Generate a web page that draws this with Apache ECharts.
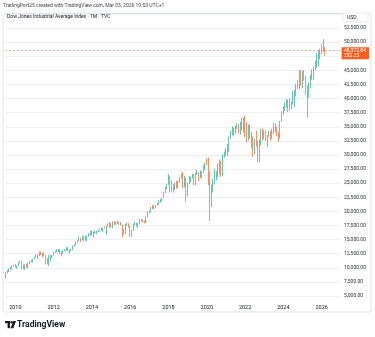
<!DOCTYPE html>
<html><head><meta charset="utf-8">
<script src="https://cdn.jsdelivr.net/npm/echarts@6/dist/echarts.min.js"></script>
<style>html,body{margin:0;padding:0;background:#fff}#c{width:375px;height:337px}</style>
</head><body><div id="c"></div>
<script>
// First candle: Jul 2009; axis continues (empty) to Dec 2026
const startYear = 2009, startMonth = 7, axisSlots = 210;
const yearLabels = ['2010','2012','2014','2016','2018','2020','2022','2024','2026'];
const yTicks = { min: 5000, max: 55000, step: 2500 };

const open = [
  8447, 9171, 9496, 9712, 9713, 10345,
  10428, 10067, 10325, 10857, 11009, 10137, 9774, 10466, 10015, 10788, 11118, 11006,
  11578, 11892, 12226, 12320, 12811, 12570, 12414, 12143, 11614, 10913, 11955, 12046,
  12218, 12633, 12952, 13212, 13214, 12393, 12880, 13009, 13091, 13437, 13096, 13026,
  13104, 13861, 14054, 14579, 14840, 15116, 14910, 15500, 14810, 15130, 15546, 16086,
  16577, 15699, 16322, 16458, 16581, 16717, 16827, 16563, 17098, 17043, 17391, 17828,
  17823, 17165, 18133, 17776, 17841, 18011, 17620, 17690, 16528, 16285, 17664, 17720,
  17425, 16466, 16517, 17685, 17774, 17787, 17930, 18432, 18401, 18308, 18142, 19124,
  19763, 19864, 20812, 20663, 20941, 21009, 21350, 21891, 21948, 22405, 23377, 24272,
  24719, 26149, 25029, 24103, 24163, 24416, 24271, 25415, 25965, 26458, 25116, 25538,
  23327, 24999, 25916, 25929, 26593, 24815, 26600, 26864, 26403, 26917, 27046, 28051,
  28538, 28256, 25409, 21917, 24346, 25383, 25813, 26428, 28430, 27782, 26502, 29638,
  30606, 29983, 30932, 32982, 33875, 34529, 34503, 34935, 35361, 33844, 35820, 34484,
  36338, 35132, 33893, 34678, 32977, 32990, 30775, 32845, 31510, 28726, 32733, 34590,
  33147, 34086, 32657, 33274, 34098, 32908, 34408, 35560, 34722, 33508, 33053, 35951,
  37690, 38150, 38996, 39807, 37816, 38686, 39119, 40843, 41563, 42330, 41763, 44911,
  42544, 44545, 43841, 42002, 40669, 42270, 44095, 44131, 45545, 46398, 47563, 47716,
  48063, 48892, 49100
];
const high = [
  9288, 9630, 9918, 10119, 10450, 10580,
  10729, 10418, 10958, 11258, 11205, 10595, 10584, 10720, 10948, 11247, 11451, 11625,
  11980, 12391, 12419, 12876, 12929, 12580, 12753, 12285, 11717, 12284, 12240, 12328,
  12841, 13055, 13290, 13338, 13280, 12898, 13099, 13330, 13653, 13662, 13290, 13310,
  13969, 14150, 14585, 14888, 15542, 15340, 15634, 15658, 15710, 15722, 16174, 16588,
  16589, 16398, 16588, 16631, 16735, 16978, 17151, 17154, 17351, 17395, 17895, 18103,
  17951, 18244, 18289, 18175, 18351, 18138, 18137, 17712, 16933, 17799, 17978, 17896,
  17425, 16795, 17790, 18168, 17934, 18017, 18623, 18668, 18517, 18400, 19152, 19988,
  20126, 20851, 21170, 21070, 21113, 21535, 21929, 22180, 22420, 23485, 24328, 24877,
  26617, 26307, 25450, 24858, 25086, 25402, 25513, 26168, 26770, 26952, 26278, 25981,
  25081, 26242, 26155, 26696, 26618, 26907, 27399, 26918, 27306, 27121, 28175, 28702,
  29374, 29568, 27102, 24765, 25759, 27580, 27072, 28502, 29199, 28959, 30117, 30637,
  31272, 31962, 33259, 34257, 35091, 34849, 35171, 35631, 35510, 35892, 36565, 36679,
  36952, 35824, 35372, 35492, 34117, 33272, 32910, 34281, 32504, 32788, 34595, 34712,
  34342, 34334, 33572, 34257, 34257, 34589, 35679, 35579, 34977, 34000, 36025, 37778,
  38662, 39283, 39889, 39811, 40077, 39487, 41376, 41586, 42628, 43325, 44974, 45074,
  44851, 45054, 43996, 42383, 42842, 44199, 45206, 45757, 46715, 48040, 48431, 48886,
  49633, 50512, 49150
];
const low = [
  8087, 9053, 9252, 9679, 9677, 10235,
  10043, 9835, 10285, 10782, 9774, 9758, 9614, 9936, 9919, 10711, 10929, 10965,
  11577, 11860, 11555, 12090, 12241, 11862, 12083, 10604, 10597, 10362, 11231, 11735,
  12218, 12630, 12743, 12710, 12391, 12035, 12492, 12948, 12977, 12991, 12471, 12883,
  13104, 13784, 13937, 14434, 14746, 14551, 14910, 14760, 14777, 14719, 15471, 15703,
  15695, 15340, 16015, 16015, 16333, 16680, 16556, 16334, 16943, 15855, 17236, 17068,
  17137, 17037, 17585, 17663, 17770, 17576, 17465, 15370, 15942, 16013, 17443, 17138,
  15451, 15504, 16511, 17485, 17331, 17063, 17713, 18247, 17992, 17959, 17884, 19002,
  19677, 19831, 20412, 20379, 20553, 20994, 21197, 21600, 21710, 22400, 23242, 23921,
  24700, 23360, 23510, 23344, 23747, 24077, 24075, 25044, 25790, 24122, 24269, 21713,
  22639, 24794, 25209, 25850, 24680, 24681, 26456, 25339, 25978, 25744, 26818, 27325,
  28170, 24681, 18214, 20736, 23361, 24844, 25524, 26080, 26538, 26143, 26277, 29536,
  29856, 29856, 30547, 32879, 33474, 33271, 33741, 34604, 33785, 33614, 34340, 33956,
  33150, 32272, 32578, 32913, 31229, 29653, 30144, 31462, 28715, 28661, 31727, 32573,
  32812, 32500, 31430, 33235, 32586, 32884, 33706, 34029, 33366, 32327, 32985, 35900,
  37123, 37796, 38418, 37612, 37816, 38099, 38987, 38499, 40383, 41625, 41695, 42223,
  41845, 43147, 40662, 36612, 40170, 41797, 43340, 43340, 44999, 45416, 45728, 47040,
  47800, 48300, 47600
];
const close = [
  9171, 9496, 9712, 9713, 10345, 10428,
  10067, 10325, 10857, 11009, 10137, 9774, 10466, 10015, 10788, 11118, 11006, 11578,
  11892, 12226, 12320, 12811, 12570, 12414, 12143, 11614, 10913, 11955, 12046, 12218,
  12633, 12952, 13212, 13214, 12393, 12880, 13009, 13091, 13437, 13096, 13026, 13104,
  13861, 14054, 14579, 14840, 15116, 14910, 15500, 14810, 15130, 15546, 16086, 16577,
  15699, 16322, 16458, 16581, 16717, 16827, 16563, 17098, 17043, 17391, 17828, 17823,
  17165, 18133, 17776, 17841, 18011, 17620, 17690, 16528, 16285, 17664, 17720, 17425,
  16466, 16517, 17685, 17774, 17787, 17930, 18432, 18401, 18308, 18142, 19124, 19763,
  19864, 20812, 20663, 20941, 21009, 21350, 21891, 21948, 22405, 23377, 24272, 24719,
  26149, 25029, 24103, 24163, 24416, 24271, 25415, 25965, 26458, 25116, 25538, 23327,
  24999, 25916, 25929, 26593, 24815, 26600, 26864, 26403, 26917, 27046, 28051, 28538,
  28256, 25409, 21917, 24346, 25383, 25813, 26428, 28430, 27782, 26502, 29638, 30606,
  29983, 30932, 32982, 33875, 34529, 34503, 34935, 35361, 33844, 35820, 34484, 36338,
  35132, 33893, 34678, 32977, 32990, 30775, 32845, 31510, 28726, 32733, 34590, 33147,
  34086, 32657, 33274, 34098, 32908, 34408, 35560, 34722, 33508, 33053, 35951, 37690,
  38150, 38996, 39807, 37816, 38686, 39119, 40843, 41563, 42330, 41763, 44911, 42544,
  44545, 43841, 42002, 40669, 42270, 44095, 44131, 45545, 46398, 47563, 47716, 48063,
  48892, 49100, 48572.84
];
const lastPriceText = '48,572.84';
const lastSubText = '282.25';

const categories = [];
for (let i = 0; i < axisSlots; i++) {
  const m = startMonth - 1 + i;
  const y = startYear + Math.floor(m / 12);
  categories.push(y + '-' + String(m % 12 + 1).padStart(2, '0'));
}
const candles = open.map((o, i) => [o, close[i], low[i], high[i]]);
const lastClose = close[close.length - 1];

const UP = '#26ab94', DOWN = '#ff5d1f', TXT = '#131722', FONT = 'Roboto';
const chart = echarts.init(document.getElementById('c'), null, { renderer: 'canvas' });
chart.setOption({
  animation: false,
  backgroundColor: '#ffffff',
  grid: { left: 5, right: 35, top: 14, bottom: 41 },
  xAxis: {
    type: 'category', data: categories, boundaryGap: true,
    axisLine: { show: false }, axisTick: { show: false }, splitLine: { show: false },
    axisLabel: {
      interval: (i, v) => v.endsWith('-01') && yearLabels.includes(v.slice(0, 4)),
      formatter: v => v.slice(0, 4), fontSize: 5.5, color: TXT, margin: 9, fontFamily: FONT
    }
  },
  yAxis: {
    type: 'value', position: 'right', min: yTicks.min, max: yTicks.max, interval: yTicks.step,
    axisLine: { show: false }, axisTick: { show: false },
    splitLine: { lineStyle: { color: '#eceff4', width: 1 } },
    axisLabel: {
      showMaxLabel: false, fontSize: 5, color: '#2a2e39', margin: 4, align: 'left', fontFamily: FONT,
      formatter: v => v.toLocaleString('en-US', { minimumFractionDigits: 2, maximumFractionDigits: 2 })
    }
  },
  series: [{
    type: 'candlestick', data: candles, barWidth: 1.3,
    itemStyle: { color: UP, color0: DOWN, borderColor: UP, borderColor0: DOWN, borderWidth: 0.7 },
    markLine: {
      silent: true, symbol: 'none', label: { show: false },
      lineStyle: { type: [2, 2], color: '#ffb08c', width: 1 },
      data: [{ yAxis: lastClose }]
    }
  }]
});

const yP = chart.convertToPixel({ yAxisIndex: 0 }, lastClose);
chart.setOption({
  graphic: [
    { type: 'rect', shape: { x: 3, y: 13.5, width: 368, height: 298.5, r: 2 }, style: { fill: 'none', stroke: '#e0e3eb', lineWidth: 1 }, z: 0 },
    { type: 'text', style: { text: 'TradingPort25 created with TradingView.com, Mar 03, 2026 19:53 UTC+1', x: 3, y: 6, fontSize: 5, fill: '#434651', fontFamily: FONT, verticalAlign: 'middle' } },
    { type: 'text', style: { text: 'Dow Jones Industrial Average Index · 1M · TVC', x: 7, y: 17, fontSize: 5, fill: TXT, fontFamily: FONT, verticalAlign: 'middle' } },
    { type: 'rect', shape: { x: 343, y: 13, width: 25, height: 9, r: 1.5 }, style: { fill: '#fff', stroke: '#e0e3eb', lineWidth: 0.8 } },
    { type: 'text', style: { text: 'USD', x: 347, y: 17.6, fontSize: 5, fill: TXT, fontFamily: FONT, verticalAlign: 'middle' } },
    { type: 'rect', shape: { x: 341.5, y: yP - 3, width: 27.5, height: 12 }, style: { fill: DOWN }, z: 10 },
    { type: 'text', style: { text: lastPriceText, x: 344, y: yP + 0.3, fontSize: 5, fill: '#fff', fontFamily: FONT, verticalAlign: 'middle' }, z: 11 },
    { type: 'text', style: { text: lastSubText, x: 344, y: yP + 5.4, fontSize: 5, fill: '#fff', fontFamily: FONT, verticalAlign: 'middle' }, z: 11 },
    // TradingView logo
    { type: 'rect', shape: { x: 5, y: 321, width: 5, height: 2.2 }, style: { fill: TXT } },
    { type: 'rect', shape: { x: 7.6, y: 321, width: 2.4, height: 7.2 }, style: { fill: TXT } },
    { type: 'circle', shape: { cx: 11.6, cy: 322.2, r: 1.2 }, style: { fill: TXT } },
    { type: 'polygon', shape: { points: [[10.6, 328.2], [13.4, 321], [16, 321], [13.2, 328.2]] }, style: { fill: TXT } },
    { type: 'text', style: { text: 'TradingView', x: 17, y: 324.6, fontSize: 8.6, fontWeight: 'bold', fill: TXT, fontFamily: FONT, verticalAlign: 'middle' } }
  ]
});
</script></body></html>
